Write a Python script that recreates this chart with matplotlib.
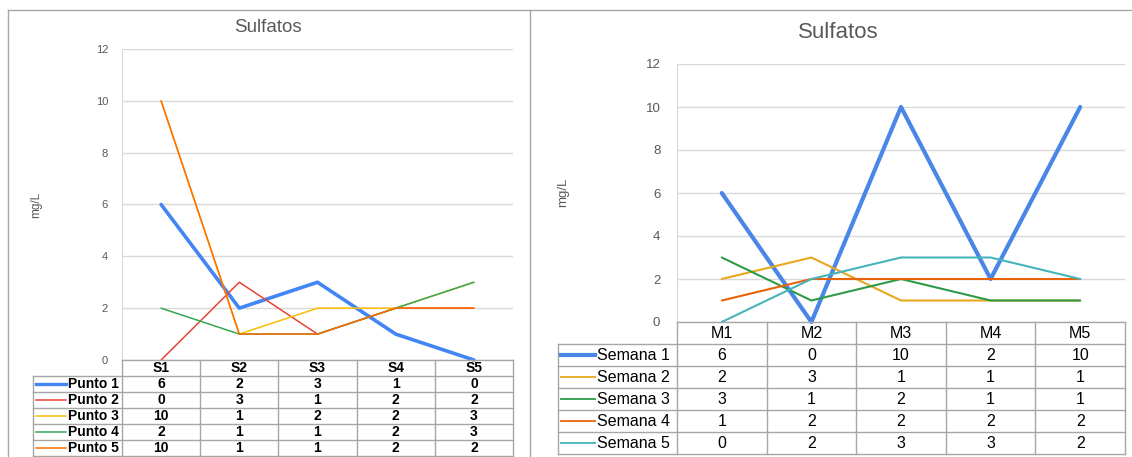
import matplotlib

matplotlib.use("Agg")
import matplotlib.pyplot as plt
from matplotlib.lines import Line2D

plt.rcParams["font.family"] = ["Liberation Sans", "DejaVu Sans"]

# ---- datos ----
S_CATS = ["S1", "S2", "S3", "S4", "S5"]
PUNTOS = ["Punto 1", "Punto 2", "Punto 3", "Punto 4", "Punto 5"]
PUNTO_1 = [6, 2, 3, 1, 0]
PUNTO_2 = [0, 3, 1, 2, 2]
PUNTO_3 = [10, 1, 2, 2, 3]
PUNTO_4 = [2, 1, 1, 2, 3]
PUNTO_5 = [10, 1, 1, 2, 2]

M_CATS = ["M1", "M2", "M3", "M4", "M5"]
SEMANAS = ["Semana 1", "Semana 2", "Semana 3", "Semana 4", "Semana 5"]
SEMANA_1 = [6, 0, 10, 2, 10]
SEMANA_2 = [2, 3, 1, 1, 1]
SEMANA_3 = [3, 1, 2, 1, 1]
SEMANA_4 = [1, 2, 2, 2, 2]
SEMANA_5 = [0, 2, 3, 3, 2]

C_PUNTOS = ["#4285F4", "#EA4335", "#FBBC04", "#34A853", "#FF6D01"]
C_SEMANAS = ["#4A86E8", "#E8A71C", "#2E9A47", "#E8630A", "#46B4BC"]

W, H = 1132, 457
GRID = "#D9D9D9"
BORDER = "#A6A6A6"

fig = plt.figure(figsize=(W / 100, H / 100), dpi=100)


def px_axes(x0, y0, x1, y1):
    """Ejes definidos en píxeles (origen arriba a la izquierda)."""
    return fig.add_axes([x0 / W, 1 - y1 / H, (x1 - x0) / W, (y1 - y0) / H])


def panel(cats, names, series, colors, box, fs):
    pl, pr, pt, pb, tl, tb = box
    ax = px_axes(pl, pt, pr, pb)
    x = range(len(cats))
    for i, (vals, c) in enumerate(zip(series, colors)):
        lw = fs["lw_main"] if i == 0 else fs["lw"]
        ax.plot(x, vals, color=c, lw=lw, clip_on=False, zorder=3 + i,
                solid_capstyle="round", solid_joinstyle="round")
    ax.set_xlim(-0.5, len(cats) - 0.5)
    ax.set_ylim(0, 12)
    ax.set_yticks(range(0, 13, 2))
    ax.set_xticks([])
    ax.tick_params(axis="y", length=0, pad=fs["pad"], labelsize=fs["tick"],
                   labelcolor="#595959")
    ax.grid(True, axis="y", color=GRID, lw=1)
    for s in ("top", "right", "bottom"):
        ax.spines[s].set_visible(False)
    ax.spines["left"].set_color(GRID)
    lx, ly = fs["ylab_xy"]
    fig.text(lx / W, 1 - ly / H, "mg/L", rotation=90, ha="center",
             va="center", fontsize=fs["ylab"], color="#595959")

    # tabla de datos bajo el gráfico
    colw = (pr - pl) / len(cats)
    legw = (pl - tl) / colw
    n = len(names)
    tx = px_axes(tl, pb, pr, tb)
    tx.set_xlim(-0.5 - legw, len(cats) - 0.5)
    tx.set_ylim(n + 1, 0)
    tx.axis("off")
    kw = dict(color=BORDER, lw=1, clip_on=False)
    tx.plot([-0.5, len(cats) - 0.5], [0, 0], **kw)
    for r in range(1, n + 2):
        tx.plot([-0.5 - legw, len(cats) - 0.5], [r, r], **kw)
    tx.plot([-0.5 - legw] * 2, [1, n + 1], **kw)
    for k in range(len(cats) + 1):
        tx.plot([k - 0.5] * 2, [0, n + 1], **kw)
    for j, c in enumerate(cats):
        tx.text(j, 0.5, c, ha="center", va="center", fontsize=fs["tab"],
                fontweight=fs["weight"])
    x_l0 = -0.5 - legw + fs["leg_a"] / colw
    x_l1 = -0.5 - legw + fs["leg_b"] / colw
    x_t = -0.5 - legw + fs["leg_t"] / colw
    for r, (nm, vals, c) in enumerate(zip(names, series, colors)):
        yc = r + 1.5
        tx.add_line(Line2D([x_l0, x_l1], [yc, yc], color=c,
                           lw=fs["leg_main"] if r == 0 else fs["leg_lw"]))
        tx.text(x_t, yc, nm, ha="left", va="center", fontsize=fs["tab"],
                fontweight=fs["weight"])
        for j, v in enumerate(vals):
            tx.text(j, yc, str(v), ha="center", va="center",
                    fontsize=fs["tab"], fontweight=fs["weight"])
    return ax


# ---- panel izquierdo ----
panel(S_CATS, PUNTOS, [PUNTO_1, PUNTO_2, PUNTO_3, PUNTO_4, PUNTO_5], C_PUNTOS,
      (122, 513, 49, 360, 33, 456),
      dict(lw_main=2.6, lw=1.1, pad=10, tick=8, ylab=8.5, ylab_xy=(36, 205),
           tab=10, weight="bold", leg_a=3, leg_b=33, leg_t=35,
           leg_main=2.4, leg_lw=1.1))
fig.text(268 / W, 1 - 27 / H, "Sulfatos", ha="center", va="center",
         fontsize=13.5, color="#595959")

# ---- panel derecho ----
panel(M_CATS, SEMANAS, [SEMANA_1, SEMANA_2, SEMANA_3, SEMANA_4, SEMANA_5],
      C_SEMANAS, (677, 1125, 64, 322, 558, 454),
      dict(lw_main=3.0, lw=1.5, pad=12, tick=9.5, ylab=9.5, ylab_xy=(563, 192),
           tab=11.5, weight="normal", leg_a=3, leg_b=37, leg_t=39,
           leg_main=3.0, leg_lw=1.3))
fig.text(838 / W, 1 - 33 / H, "Sulfatos", ha="center", va="center",
         fontsize=16, color="#595959")

# marcos de los dos gráficos
fig.add_artist(Line2D([8 / W, 1], [1 - 9.5 / H] * 2, color=BORDER, lw=1))
fig.add_artist(Line2D([8 / W] * 2, [0, 1 - 9.5 / H], color=BORDER, lw=1))
fig.add_artist(Line2D([530 / W] * 2, [0, 1 - 9.5 / H], color=BORDER, lw=1))

fig.savefig("out.png", dpi=100)
